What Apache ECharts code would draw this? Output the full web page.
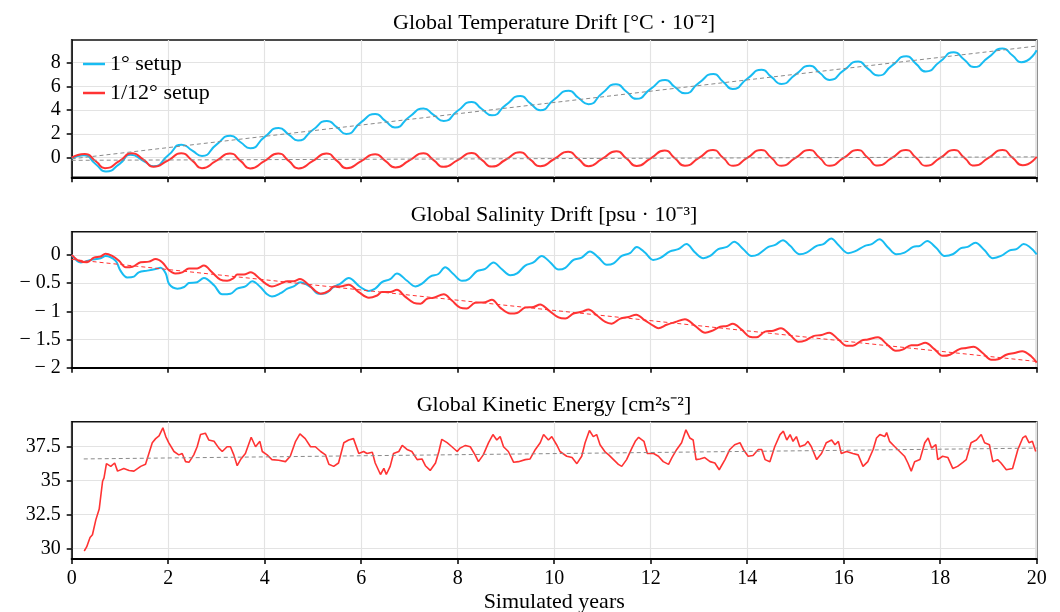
<!DOCTYPE html>
<html>
<head>
<meta charset="utf-8">
<title>Global drift diagnostics</title>
<script src="https://cdn.jsdelivr.net/npm/echarts@6/dist/echarts.min.js"></script>
<style>
html, body { margin: 0; padding: 0; background: #fff; }
#chart { width: 1060px; height: 612px; }
</style>
</head>
<body>
<div id="chart"></div>
<script>
// tick labels
var yearTicks = [0, 2, 4, 6, 8, 10, 12, 14, 16, 18, 20];
var tempTicks = [0, 2, 4, 6, 8];
var salTicks = [-2, -1.5, -1, -0.5, 0];
var keTicks = [30, 32.5, 35, 37.5];

// temperature drift [degC * 1e-2], [year, value]
var tempCoarse = [
  [0, -0.05], [0.25, 0.2], [0.5, -0.55], [0.71, -1.16], [1.0, -0.5], [1.22, 0.25], [1.5, -0.3], [1.7, -0.72],
  [2.0, 0.2], [2.28, 1.1], [2.5, 0.6], [2.7, 0.15], [3.0, 1.1], [3.29, 1.85], [3.5, 1.3], [3.7, 0.8],
  [4.0, 1.75], [4.29, 2.5], [4.5, 1.95], [4.69, 1.45], [5.0, 2.35], [5.29, 3.1], [5.5, 2.55], [5.69, 2.0],
  [6.0, 3.0], [6.29, 3.68], [6.5, 3.1], [6.7, 2.55], [7.0, 3.45], [7.29, 4.14], [7.5, 3.6], [7.71, 3.1],
  [8.0, 3.95], [8.29, 4.7], [8.5, 4.1], [8.71, 3.57], [9.0, 4.45], [9.3, 5.19], [9.5, 4.6], [9.71, 4.0],
  [10.0, 4.9], [10.3, 5.64], [10.5, 5.05], [10.71, 4.51], [11.0, 5.45], [11.28, 6.19], [11.5, 5.55], [11.7, 4.96],
  [12.0, 5.8], [12.3, 6.55], [12.5, 5.95], [12.71, 5.42], [13.0, 6.3], [13.3, 7.04], [13.5, 6.4], [13.7, 5.79],
  [14.0, 6.65], [14.3, 7.4], [14.5, 6.8], [14.71, 6.21], [15.0, 7.0], [15.3, 7.74], [15.5, 7.15], [15.71, 6.55],
  [16.0, 7.35], [16.3, 8.11], [16.5, 7.5], [16.72, 6.92], [17.0, 7.75], [17.3, 8.54], [17.5, 7.9], [17.7, 7.26],
  [18.0, 8.1], [18.28, 8.88], [18.5, 8.25], [18.7, 7.63], [19.0, 8.45], [19.29, 9.19], [19.5, 8.6], [19.68, 8.03],
  [20.0, 9.05]
];
var tempFine = [
  [0, 0.0], [0.27, 0.31], [0.5, -0.3], [0.69, -0.88], [1.0, -0.25], [1.24, 0.37], [1.5, -0.2], [1.69, -0.77],
  [2.0, -0.22], [2.27, 0.37], [2.5, -0.25], [2.7, -0.88], [3.0, -0.25], [3.28, 0.36], [3.5, -0.27], [3.7, -0.9],
  [4.0, -0.27], [4.28, 0.36], [4.5, -0.27], [4.7, -0.9], [5.0, -0.27], [5.28, 0.36], [5.5, -0.27], [5.7, -0.88],
  [6.0, -0.28], [6.29, 0.3], [6.5, -0.27], [6.71, -0.82], [7.0, -0.22], [7.29, 0.37], [7.5, -0.2], [7.71, -0.77],
  [8.0, -0.2], [8.29, 0.4], [8.5, -0.18], [8.71, -0.75], [9.0, -0.15], [9.29, 0.45], [9.5, -0.14], [9.71, -0.72],
  [10.0, -0.11], [10.29, 0.5], [10.5, -0.1], [10.71, -0.71], [11.0, -0.08], [11.29, 0.54], [11.5, -0.07], [11.71, -0.69],
  [12.0, -0.05], [12.29, 0.6], [12.5, -0.04], [12.71, -0.68], [13.0, -0.02], [13.29, 0.65], [13.5, -0.01], [13.71, -0.68],
  [14.0, -0.02], [14.29, 0.65], [14.5, -0.01], [14.71, -0.68], [15.0, -0.02], [15.29, 0.65], [15.5, -0.01], [15.71, -0.68],
  [16.0, -0.02], [16.29, 0.65], [16.5, -0.01], [16.71, -0.66], [17.0, -0.02], [17.29, 0.65], [17.5, -0.01], [17.71, -0.68],
  [18.0, -0.02], [18.29, 0.65], [18.5, -0.01], [18.71, -0.66], [19.0, -0.02], [19.29, 0.65], [19.5, -0.01], [19.71, -0.64],
  [20.0, 0.08]
];
var tempTrendCoarse = [[0, -0.1], [20, 9.4]];
var tempTrendFine = [[0, -0.22], [20, 0.07]];

// salinity drift [psu * 1e-3]
var salCoarse = [
  [0, 0], [0.19, -0.135], [0.39, -0.09], [0.6, -0.06], [0.7, -0.02], [0.91, -0.105], [1.01, -0.28], [1.15, -0.4],
  [1.29, -0.385], [1.39, -0.31], [1.57, -0.28], [1.74, -0.25], [1.84, -0.23], [1.95, -0.33], [2.02, -0.52], [2.19, -0.6],
  [2.33, -0.57], [2.43, -0.5], [2.6, -0.485], [2.74, -0.41], [2.95, -0.54], [3.12, -0.7], [3.29, -0.69], [3.43, -0.6],
  [3.6, -0.56], [3.74, -0.47], [3.91, -0.57], [4.05, -0.7], [4.15, -0.74], [4.33, -0.68], [4.47, -0.6], [4.6, -0.56],
  [4.74, -0.485], [4.95, -0.57], [5.12, -0.69], [5.26, -0.68], [5.43, -0.57], [5.57, -0.51], [5.74, -0.41], [5.98, -0.57],
  [6.16, -0.64], [6.29, -0.6], [6.43, -0.485], [6.6, -0.43], [6.74, -0.33], [6.95, -0.46], [7.12, -0.56], [7.26, -0.51],
  [7.43, -0.385], [7.6, -0.34], [7.74, -0.22], [7.91, -0.34], [8.09, -0.46], [8.23, -0.43], [8.4, -0.29], [8.57, -0.25],
  [8.74, -0.135], [8.91, -0.25], [9.09, -0.36], [9.23, -0.33], [9.4, -0.19], [9.57, -0.135], [9.74, -0.02], [9.92, -0.135],
  [10.09, -0.26], [10.23, -0.23], [10.4, -0.09], [10.57, -0.05], [10.74, 0.06], [10.92, -0.05], [11.09, -0.175], [11.23, -0.15],
  [11.4, -0.02], [11.57, 0.03], [11.71, 0.14], [11.88, 0.04], [12.05, -0.09], [12.19, -0.06], [12.4, 0.06], [12.57, 0.1],
  [12.74, 0.19], [12.92, 0.04], [13.09, -0.06], [13.23, -0.02], [13.4, 0.1], [13.58, 0.14], [13.73, 0.23], [13.92, 0.1],
  [14.09, -0.02], [14.23, 0.01], [14.44, 0.14], [14.58, 0.175], [14.74, 0.26], [14.89, 0.16], [15.09, 0.01], [15.23, 0.04],
  [15.44, 0.16], [15.58, 0.19], [15.74, 0.29], [15.89, 0.175], [16.09, 0.03], [16.23, 0.06], [16.44, 0.16], [16.58, 0.19],
  [16.74, 0.275], [16.92, 0.13], [17.09, 0.01], [17.26, 0.04], [17.44, 0.14], [17.58, 0.16], [17.73, 0.245], [17.92, 0.12],
  [18.09, -0.02], [18.26, 0.01], [18.43, 0.12], [18.57, 0.14], [18.73, 0.215], [18.92, 0.08], [19.09, -0.06], [19.26, -0.02],
  [19.44, 0.08], [19.58, 0.1], [19.73, 0.19], [20, 0.01]
];
var salFine = [
  [0, 0], [0.15, -0.105], [0.32, -0.13], [0.46, -0.05], [0.6, -0.03], [0.7, 0.02], [0.84, -0.02], [0.98, -0.105],
  [1.12, -0.22], [1.26, -0.21], [1.43, -0.13], [1.6, -0.12], [1.74, -0.075], [1.88, -0.135], [2.01, -0.27], [2.15, -0.33],
  [2.29, -0.31], [2.43, -0.24], [2.6, -0.24], [2.74, -0.19], [2.91, -0.31], [3.08, -0.44], [3.22, -0.46], [3.36, -0.41],
  [3.43, -0.35], [3.57, -0.35], [3.71, -0.31], [3.88, -0.41], [4.02, -0.51], [4.15, -0.56], [4.33, -0.51], [4.47, -0.47],
  [4.6, -0.47], [4.73, -0.43], [4.91, -0.53], [5.05, -0.64], [5.16, -0.69], [5.33, -0.64], [5.43, -0.56], [5.57, -0.56],
  [5.74, -0.53], [5.95, -0.66], [6.16, -0.76], [6.33, -0.72], [6.43, -0.66], [6.6, -0.66], [6.74, -0.62], [6.91, -0.74],
  [7.09, -0.85], [7.23, -0.865], [7.36, -0.78], [7.5, -0.76], [7.71, -0.7], [7.88, -0.81], [8.05, -0.935], [8.19, -0.95],
  [8.36, -0.85], [8.57, -0.84], [8.71, -0.795], [8.88, -0.935], [9.09, -1.04], [9.23, -1.03], [9.4, -0.935], [9.57, -0.925],
  [9.71, -0.88], [9.88, -0.98], [10.09, -1.11], [10.23, -1.13], [10.4, -1.04], [10.57, -1.01], [10.71, -0.97], [10.88, -1.07],
  [11.06, -1.19], [11.19, -1.22], [11.37, -1.13], [11.54, -1.1], [11.7, -1.06], [11.88, -1.16], [12.06, -1.26], [12.16, -1.3],
  [12.33, -1.24], [12.51, -1.19], [12.71, -1.14], [12.92, -1.26], [13.13, -1.38], [13.26, -1.35], [13.44, -1.275], [13.58, -1.26],
  [13.7, -1.22], [13.89, -1.33], [14.05, -1.45], [14.19, -1.46], [14.37, -1.36], [14.54, -1.345], [14.7, -1.3], [14.89, -1.42],
  [15.06, -1.54], [15.2, -1.52], [15.37, -1.44], [15.54, -1.42], [15.7, -1.38], [15.89, -1.5], [16.06, -1.61], [16.19, -1.61],
  [16.37, -1.52], [16.5, -1.5], [16.71, -1.46], [16.89, -1.58], [17.08, -1.7], [17.22, -1.68], [17.4, -1.6], [17.53, -1.6],
  [17.69, -1.56], [17.88, -1.67], [18.05, -1.79], [18.2, -1.77], [18.4, -1.67], [18.54, -1.65], [18.69, -1.63], [18.88, -1.74],
  [19.06, -1.86], [19.2, -1.85], [19.37, -1.77], [19.54, -1.74], [19.7, -1.71], [19.89, -1.8], [20, -1.91]
];
var salTrendFine = [[0, -0.08], [20, -1.89]];

// kinetic energy [cm2 s-2], 1/12 setup
var keFine = [
  [0.26, 29.8], [0.31, 30.1], [0.38, 30.8], [0.43, 31.0], [0.5, 32.1], [0.57, 32.9], [0.64, 34.95], [0.67, 35.2],
  [0.72, 36.25], [0.81, 36.05], [0.89, 36.3], [0.95, 35.7], [1.08, 35.9], [1.19, 35.75], [1.29, 35.7], [1.43, 36.05],
  [1.53, 36.2], [1.6, 37.0], [1.67, 37.8], [1.74, 38.1], [1.81, 38.3], [1.89, 38.9], [1.95, 38.25], [2.01, 37.8],
  [2.12, 37.15], [2.22, 36.9], [2.29, 37.0], [2.36, 36.4], [2.43, 36.35], [2.53, 36.9], [2.6, 37.5], [2.67, 38.4],
  [2.77, 38.5], [2.84, 38.0], [2.95, 37.9], [3.05, 37.4], [3.12, 37.15], [3.22, 37.5], [3.29, 37.5], [3.36, 36.9],
  [3.43, 36.1], [3.5, 36.55], [3.6, 37.0], [3.72, 38.2], [3.81, 37.5], [3.9, 37.9], [3.95, 37.15], [4.05, 36.9],
  [4.15, 36.55], [4.29, 36.5], [4.43, 36.4], [4.53, 36.8], [4.64, 37.9], [4.73, 38.45], [4.84, 38.1], [4.95, 37.5],
  [5.05, 37.5], [5.16, 37.15], [5.26, 36.9], [5.33, 36.2], [5.43, 36.05], [5.53, 36.3], [5.64, 37.8], [5.74, 38.0],
  [5.84, 38.1], [5.95, 37.0], [6.05, 37.15], [6.12, 37.0], [6.23, 37.1], [6.29, 36.3], [6.4, 35.45], [6.47, 35.9],
  [6.52, 35.45], [6.6, 36.05], [6.67, 37.0], [6.78, 37.15], [6.85, 37.6], [6.95, 37.3], [7.05, 37.15], [7.16, 36.55],
  [7.26, 36.6], [7.33, 36.1], [7.43, 35.75], [7.54, 36.3], [7.61, 37.15], [7.67, 38.05], [7.78, 37.8], [7.88, 37.5],
  [7.99, 37.15], [8.05, 37.4], [8.16, 37.6], [8.26, 37.5], [8.36, 36.9], [8.43, 36.4], [8.53, 36.9], [8.64, 37.8],
  [8.73, 38.4], [8.81, 38.0], [8.88, 38.25], [8.95, 37.5], [9.05, 37.15], [9.16, 36.35], [9.26, 36.4], [9.4, 36.55],
  [9.5, 36.6], [9.61, 37.3], [9.71, 37.8], [9.78, 38.4], [9.88, 38.0], [9.95, 38.25], [10.05, 37.65], [10.12, 37.15],
  [10.26, 36.8], [10.37, 36.7], [10.47, 36.25], [10.57, 36.8], [10.64, 37.8], [10.73, 38.7], [10.81, 38.25], [10.88, 38.4],
  [10.95, 37.65], [11.06, 37.1], [11.13, 36.9], [11.23, 36.55], [11.33, 36.2], [11.4, 36.05], [11.5, 36.55], [11.61, 37.4],
  [11.68, 37.9], [11.75, 38.2], [11.86, 37.9], [11.93, 37.0], [12.06, 37.0], [12.16, 36.8], [12.26, 36.4], [12.37, 36.2],
  [12.44, 36.7], [12.54, 37.3], [12.64, 37.8], [12.73, 38.75], [12.81, 38.15], [12.88, 38.0], [12.94, 36.55], [13.02, 36.6],
  [13.12, 36.7], [13.23, 36.4], [13.33, 36.3], [13.42, 35.8], [13.54, 36.55], [13.64, 37.3], [13.74, 37.65], [13.85, 37.8],
  [13.92, 37.3], [14.02, 36.8], [14.12, 36.85], [14.23, 37.3], [14.3, 37.3], [14.37, 36.55], [14.47, 36.4], [14.57, 37.5],
  [14.68, 38.4], [14.75, 38.65], [14.82, 38.0], [14.89, 38.4], [14.95, 37.9], [15.02, 38.25], [15.09, 37.5], [15.2, 37.65],
  [15.26, 37.9], [15.33, 37.5], [15.44, 36.55], [15.54, 37.0], [15.64, 37.8], [15.75, 38.0], [15.82, 37.65], [15.89, 37.9],
  [15.95, 37.0], [16.06, 37.15], [16.19, 37.0], [16.3, 36.9], [16.4, 36.05], [16.5, 36.4], [16.61, 37.3], [16.68, 38.15],
  [16.75, 38.4], [16.85, 38.25], [16.89, 38.55], [16.95, 37.9], [17.06, 37.5], [17.16, 37.15], [17.26, 36.8], [17.33, 36.3],
  [17.4, 35.7], [17.47, 36.4], [17.58, 36.55], [17.68, 37.8], [17.75, 38.15], [17.82, 37.4], [17.91, 37.65], [17.95, 36.55],
  [18.05, 36.8], [18.16, 36.7], [18.26, 35.9], [18.36, 36.05], [18.47, 36.35], [18.54, 36.55], [18.64, 37.8], [18.75, 38.0],
  [18.85, 38.4], [18.92, 37.8], [19.02, 37.65], [19.09, 36.4], [19.19, 36.55], [19.26, 36.3], [19.37, 35.8], [19.5, 35.9],
  [19.61, 37.3], [19.71, 38.15], [19.77, 38.3], [19.84, 37.8], [19.91, 37.9], [19.98, 37.15]
];
var keTrendFine = [[0.25, 36.6], [20, 37.4]];

var blue = '#18bcf2';
var red = '#ff3333';
var serif = 'Liberation Serif';

var chart = echarts.init(document.getElementById('chart'));

function xAxisFor(gridIndex, showLabels) {
  return {
    type: 'value', gridIndex: gridIndex, min: 0, max: 20,
    axisLine: { show: true, onZero: false, lineStyle: { color: '#000', width: 2 } },
    axisTick: { show: true, inside: false, length: 5, customValues: yearTicks, lineStyle: { color: '#000', width: 1.5 } },
    axisLabel: { show: showLabels, customValues: yearTicks, fontFamily: serif, fontSize: 20, color: '#000', margin: 10 },
    splitLine: { show: true, lineStyle: { color: '#e3e3e3', width: 1.2 } },
    name: showLabels ? 'Simulated years' : '',
    nameLocation: 'middle', nameGap: 32,
    nameTextStyle: { fontFamily: serif, fontSize: 22, color: '#000' }
  };
}

function yAxisFor(gridIndex, lo, hi, ticks, fmt) {
  return {
    type: 'value', gridIndex: gridIndex, min: lo, max: hi,
    axisLine: { show: true, lineStyle: { color: '#000', width: 1.5 } },
    axisTick: { show: true, inside: false, length: 5, customValues: ticks, lineStyle: { color: '#000', width: 1.5 } },
    axisLabel: { customValues: ticks, fontFamily: serif, fontSize: 20, color: '#000', margin: 11, formatter: fmt },
    splitLine: { show: true, lineStyle: { color: '#e3e3e3', width: 1.2 } }
  };
}

function minusFmt(v) {
  return v < 0 ? '\u2212 ' + String(-v) : String(v);
}

function lineSeries(name, xi, data, color, width, smooth) {
  return {
    name: name, type: 'line', xAxisIndex: xi, yAxisIndex: xi, data: data,
    showSymbol: false, smooth: smooth, lineStyle: { color: color, width: width },
    itemStyle: { color: color }, z: 3
  };
}

function trendSeries(name, xi, data, color) {
  return {
    name: name, type: 'line', xAxisIndex: xi, yAxisIndex: xi, data: data,
    showSymbol: false, lineStyle: { color: color, width: 1, type: [4, 3] }, z: 4, silent: true
  };
}

var grids = [
  { left: 71.7, right: 23.3, top: 40, height: 137.3 },
  { left: 71.7, right: 23.3, top: 231.7, height: 136 },
  { left: 71.7, right: 23.3, top: 421.7, height: 137.3 }
];
grids.forEach(function (g) {
  g.show = true; g.borderColor = '#111'; g.borderWidth = 1.6;
  g.containLabel = false; g.outerBoundsMode = 'none';
});

var titleFont = '22px "Liberation Serif"';

var option = {
  backgroundColor: '#fff',
  animation: false,
  textStyle: { fontFamily: serif },
  grid: grids,
  graphic: [
    { type: 'text', x: 554, y: 23, style: { text: 'Global Temperature Drift [\u00b0C \u00b7 10\u207b\u00b2]', font: titleFont, fill: '#000', align: 'center', verticalAlign: 'middle' } },
    { type: 'text', x: 554, y: 215, style: { text: 'Global Salinity Drift [psu \u00b7 10\u207b\u00b3]', font: titleFont, fill: '#000', align: 'center', verticalAlign: 'middle' } },
    { type: 'text', x: 554, y: 405, style: { text: 'Global Kinetic Energy [cm\u00b2s\u207b\u00b2]', font: titleFont, fill: '#000', align: 'center', verticalAlign: 'middle' } }
  ],
  legend: {
    data: ['1\u00b0 setup', '1/12\u00b0 setup'],
    orient: 'vertical', left: 83, top: 53, padding: 0, itemGap: 7,
    icon: 'rect', itemWidth: 22, itemHeight: 2.5,
    textStyle: { fontFamily: serif, fontSize: 22, color: '#000' }
  },
  xAxis: [xAxisFor(0, false), xAxisFor(1, false), xAxisFor(2, true)],
  yAxis: [
    yAxisFor(0, -1.65, 9.91, tempTicks, minusFmt),
    yAxisFor(1, -2, 0.41, salTicks, minusFmt),
    yAxisFor(2, 29.21, 39.35, keTicks, function (v) { return String(v); })
  ],
  series: [
    trendSeries('trend 1', 0, tempTrendCoarse, '#8a8a8a'),
    trendSeries('trend 1/12', 0, tempTrendFine, '#8a8a8a'),
    lineSeries('1\u00b0 setup', 0, tempCoarse, blue, 2, 0.6),
    lineSeries('1/12\u00b0 setup', 0, tempFine, red, 2, 0.6),
    lineSeries('1\u00b0 setup', 1, salCoarse, blue, 2, 0.35),
    lineSeries('1/12\u00b0 setup', 1, salFine, red, 2, 0.35),
    trendSeries('salinity trend 1/12', 1, salTrendFine, red),
    lineSeries('1/12\u00b0 setup', 2, keFine, red, 1.6, false),
    trendSeries('ke trend 1/12', 2, keTrendFine, '#8a8a8a')
  ]
};

chart.setOption(option);
</script>
</body>
</html>
